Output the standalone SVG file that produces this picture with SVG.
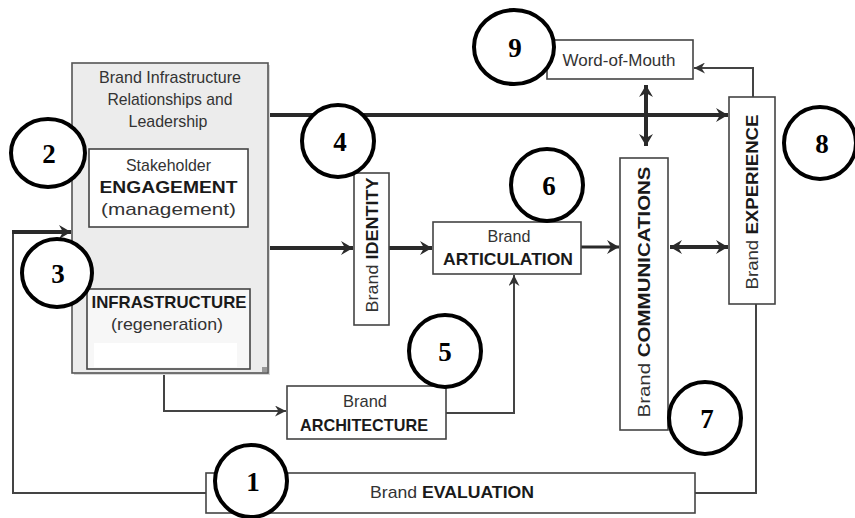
<svg xmlns="http://www.w3.org/2000/svg" width="855" height="518" viewBox="0 0 855 518">
<defs>
<style>
.box{fill:#fff;stroke:#444;stroke-width:1.6}
.t{font-family:"Liberation Sans",Arial,sans-serif;font-size:17px;fill:#333;text-anchor:middle}
.b{font-weight:bold;fill:#1a1a1a}
.num{font-family:"Liberation Serif","Times New Roman",serif;font-size:27px;font-weight:bold;fill:#000;text-anchor:middle}
.c{fill:#fff;stroke:#000;stroke-width:4}
.thick{fill:none;stroke:#2a2a2a;stroke-width:4}
.med{fill:none;stroke:#2a2a2a;stroke-width:3}
.thin{fill:none;stroke:#444;stroke-width:2}
</style>
<marker id="ah" markerUnits="userSpaceOnUse" markerWidth="12" markerHeight="14" refX="12" refY="7" orient="auto-start-reverse">
<path d="M0,0 L12,7 L0,14 L4,7 z" fill="#2a2a2a"/>
</marker>
<marker id="at" markerUnits="userSpaceOnUse" markerWidth="11" markerHeight="11" refX="11" refY="5.5" orient="auto-start-reverse">
<path d="M0,0 L11,5.5 L0,11 L3.5,5.5 z" fill="#333"/>
</marker>
</defs>
<rect width="855" height="518" fill="#fff"/>

<g id="connectors">
<path class="thin" d="M206,493 H13 V232"/>
<path class="thick" d="M12,232 H71" marker-end="url(#ah)"/>
<path class="thick" d="M268,115 H728" marker-end="url(#ah)"/>
<path class="thick" d="M268,248 H353" marker-end="url(#ah)"/>
<path class="thick" d="M389,248 H432" marker-end="url(#ah)"/>
<path class="med" d="M581,247 H619" marker-end="url(#ah)"/>
<path class="thick" d="M670,247 H728" marker-start="url(#ah)" marker-end="url(#ah)"/>
<path class="thick" d="M646,85 V146" marker-start="url(#ah)" marker-end="url(#ah)"/>
<path class="thick" d="M169,232 V284" marker-start="url(#ah)" marker-end="url(#ah)"/>
<path class="thin" d="M753,97 V68 H694" marker-end="url(#at)"/>
<path class="thin" d="M164,373 V411 H286" marker-end="url(#at)"/>
<path class="thin" d="M446,413 H514 V275" marker-end="url(#at)"/>
<path class="thin" d="M756,304 V493 H695"/>
</g>

<g id="infrastructure-group">
<rect x="74" y="65" width="196" height="310" fill="#d8d8d8"/>
<rect x="72" y="63" width="196" height="310" fill="#ececec" stroke="#555" stroke-width="1.6"/>
<rect x="262" y="367" width="5" height="5" fill="#999"/>
<text class="t" x="170" y="83" font-size="16" textLength="142" lengthAdjust="spacingAndGlyphs">Brand Infrastructure</text>
<text class="t" x="170" y="105" font-size="16" textLength="125" lengthAdjust="spacingAndGlyphs">Relationships and</text>
<text class="t" x="168" y="127" font-size="16" textLength="79" lengthAdjust="spacingAndGlyphs">Leadership</text>
</g>

<g id="engagement">
<rect class="box" x="89" y="149" width="159" height="78"/>
<text class="t" x="168.5" y="171" textLength="85" lengthAdjust="spacingAndGlyphs">Stakeholder</text>
<text class="t b" x="168.5" y="193" textLength="138" lengthAdjust="spacingAndGlyphs">ENGAGEMENT</text>
<text class="t" x="168.5" y="215" textLength="135" lengthAdjust="spacingAndGlyphs">(management)</text>
</g>

<g id="infrastructure">
<rect class="box" x="87" y="289" width="163" height="80" style="fill:#f7f7f7"/>
<rect x="94" y="343" width="143" height="24" fill="#fff"/>
<text class="t b" x="169" y="308" textLength="155" lengthAdjust="spacingAndGlyphs">INFRASTRUCTURE</text>
<text class="t" x="167" y="330" textLength="112" lengthAdjust="spacingAndGlyphs">(regeneration)</text>
</g>

<g id="identity">
<rect class="box" x="354" y="173" width="35" height="152"/>
<text class="t" transform="translate(378,245) rotate(-90)" textLength="135" lengthAdjust="spacingAndGlyphs">Brand <tspan class="b">IDENTITY</tspan></text>
</g>

<g id="articulation">
<rect class="box" x="433" y="222" width="148" height="52"/>
<text class="t" x="509" y="242" textLength="43" lengthAdjust="spacingAndGlyphs">Brand</text>
<text class="t b" x="508" y="265" textLength="130" lengthAdjust="spacingAndGlyphs">ARTICULATION</text>
</g>

<g id="architecture">
<rect class="box" x="287" y="386" width="159" height="53"/>
<text class="t" x="365" y="407" textLength="44" lengthAdjust="spacingAndGlyphs">Brand</text>
<text class="t b" x="364" y="431" textLength="128" lengthAdjust="spacingAndGlyphs">ARCHITECTURE</text>
</g>

<g id="communications">
<rect class="box" x="620" y="158" width="48" height="272"/>
<text class="t" transform="translate(650,292) rotate(-90)" textLength="251" lengthAdjust="spacingAndGlyphs">Brand <tspan class="b">COMMUNICATIONS</tspan></text>
</g>

<g id="experience">
<rect class="box" x="729" y="97" width="46" height="207"/>
<text class="t" transform="translate(758,202) rotate(-90)" textLength="175" lengthAdjust="spacingAndGlyphs">Brand <tspan class="b">EXPERIENCE</tspan></text>
</g>

<g id="word-of-mouth">
<rect class="box" x="547" y="40" width="146" height="39"/>
<text class="t" x="619" y="66" textLength="113" lengthAdjust="spacingAndGlyphs">Word-of-Mouth</text>
</g>

<g id="evaluation">
<rect class="box" x="206" y="473" width="489" height="40"/>
<text class="t" x="452" y="498" textLength="164" lengthAdjust="spacingAndGlyphs">Brand <tspan class="b">EVALUATION</tspan></text>
</g>

<g id="label-1"><circle class="c" cx="251" cy="481" r="36"/><text class="num" x="253" y="491">1</text></g>
<g id="label-2"><ellipse class="c" cx="48" cy="153" rx="37" ry="34"/><text class="num" x="49" y="163">2</text></g>
<g id="label-3"><ellipse class="c" cx="57" cy="273" rx="35" ry="34"/><text class="num" x="58" y="283">3</text></g>
<g id="label-4"><circle class="c" cx="338" cy="141" r="36"/><text class="num" x="340" y="151">4</text></g>
<g id="label-5"><circle class="c" cx="445" cy="351" r="36"/><text class="num" x="445" y="361">5</text></g>
<g id="label-6"><circle class="c" cx="547" cy="185" r="36"/><text class="num" x="549" y="195">6</text></g>
<g id="label-7"><circle class="c" cx="705" cy="418" r="36"/><text class="num" x="707" y="428">7</text></g>
<g id="label-8"><circle class="c" cx="820" cy="143" r="36"/><text class="num" x="822" y="153">8</text></g>
<g id="label-9"><ellipse class="c" cx="514" cy="47" rx="40" ry="37"/><text class="num" x="515" y="57">9</text></g>
</svg>
